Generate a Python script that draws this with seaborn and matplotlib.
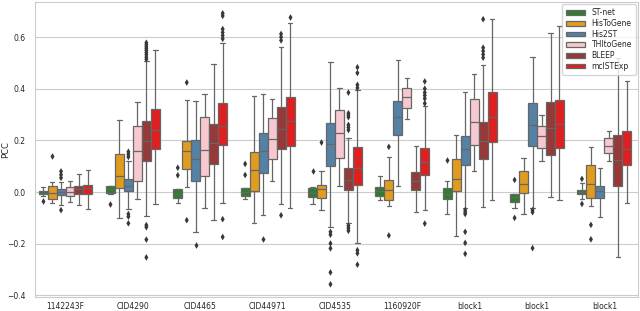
import pandas as pd
import matplotlib
matplotlib.use("Agg")
import matplotlib.pyplot as plt
import seaborn as sns

# Amostras (eixo x) e modelos (hue)
slides = ["1142243F", "CID4290", "CID4465", "CID44971", "CID4535",
          "1160920F", "block1", "block1", "block1"]
models = ["ST-net", "HisToGene", "His2ST", "THItoGene", "BLEEP", "mclSTExp"]
cores = ["forestgreen", "orange", "steelblue", "pink", "brown", "red"]

# Resumo de cada caixa: (min, q1, mediana, q3, max)
stnet_box = [(-0.017, -0.009, -0.003, 0.004, 0.018), (-0.008, -0.005, 0.010, 0.023, 0.025),
             (-0.041, -0.024, -0.006, 0.010, 0.012), (-0.025, -0.014, 0.000, 0.015, 0.017),
             (-0.047, -0.019, -0.004, 0.015, 0.020), (-0.032, -0.015, 0.004, 0.018, 0.063),
             (-0.085, -0.028, -0.009, 0.017, 0.041), (-0.062, -0.038, -0.019, -0.009, -0.006),
             (-0.028, -0.009, 0.000, 0.009, 0.034)]
histogene_box = [(-0.041, -0.027, -0.005, 0.022, 0.038), (-0.099, 0.014, 0.062, 0.146, 0.279),
                 (0.019, 0.090, 0.159, 0.197, 0.358), (-0.118, 0.006, 0.084, 0.156, 0.373),
                 (-0.071, -0.024, 0.011, 0.029, 0.080), (-0.053, -0.032, 0.008, 0.046, 0.137),
                 (-0.170, 0.005, 0.052, 0.128, 0.221), (-0.084, -0.003, 0.032, 0.080, 0.131),
                 (-0.055, -0.022, 0.032, 0.105, 0.173)]
his2st_box = [(-0.051, -0.011, 0.000, 0.010, 0.040), (-0.066, 0.003, 0.024, 0.050, 0.121),
              (-0.154, 0.044, 0.128, 0.200, 0.352), (-0.088, 0.074, 0.159, 0.229, 0.380),
              (-0.137, 0.102, 0.187, 0.269, 0.504), (0.024, 0.222, 0.292, 0.354, 0.510),
              (-0.060, 0.105, 0.165, 0.218, 0.386), (-0.060, 0.177, 0.259, 0.344, 0.523),
              (-0.095, -0.023, 0.004, 0.024, 0.093)]
thitogene_box = [(-0.038, -0.017, 0.001, 0.020, 0.041), (-0.028, 0.041, 0.159, 0.254, 0.349),
                 (-0.060, 0.062, 0.164, 0.292, 0.381), (0.042, 0.128, 0.207, 0.288, 0.362),
                 (0.022, 0.131, 0.227, 0.317, 0.401), (0.283, 0.326, 0.368, 0.404, 0.441),
                 (0.083, 0.182, 0.270, 0.362, 0.458), (0.121, 0.170, 0.216, 0.255, 0.300),
                 (0.121, 0.152, 0.178, 0.211, 0.237)]
bleep_box = [(-0.052, -0.008, 0.010, 0.022, 0.071), (-0.094, 0.121, 0.197, 0.276, 0.508),
             (-0.108, 0.107, 0.189, 0.264, 0.495), (-0.047, 0.166, 0.245, 0.331, 0.561),
             (-0.120, 0.009, 0.047, 0.095, 0.210), (-0.076, 0.009, 0.041, 0.079, 0.180),
             (-0.057, 0.127, 0.198, 0.273, 0.491), (-0.019, 0.143, 0.248, 0.349, 0.615),
             (-0.251, 0.025, 0.124, 0.220, 0.520)]
mclstexp_box = [(-0.065, -0.006, 0.014, 0.029, 0.085), (-0.048, 0.166, 0.239, 0.321, 0.549),
                (-0.041, 0.182, 0.257, 0.343, 0.578), (-0.060, 0.177, 0.276, 0.367, 0.654),
                (-0.197, 0.028, 0.094, 0.174, 0.394), (-0.070, 0.067, 0.116, 0.171, 0.334),
                (-0.032, 0.192, 0.290, 0.386, 0.670), (-0.029, 0.170, 0.264, 0.358, 0.644),
                (-0.043, 0.105, 0.168, 0.237, 0.429)]

# Outliers de cada caixa
stnet_out = [[-0.034], [-0.047], [0.094, 0.065], [0.109, 0.066], [0.083], [],
             [0.124], [0.047, -0.100], [0.051, -0.046]]
histogene_out = [[0.141], [], [0.424, -0.109], [], [0.192], [0.175, -0.168],
                 [], [], [-0.127, -0.183]]
his2st_out = [[0.080, 0.067, 0.055, -0.070],
              [0.156, 0.146, 0.136, -0.085, -0.095, -0.121],
              [-0.206], [-0.180],
              [-0.154, -0.165, -0.199, -0.218, -0.311, -0.357],
              [],
              [-0.070, -0.078, -0.085, -0.154, -0.197, -0.239],
              [-0.070, -0.078, -0.217], []]
thitogene_out = [[], [], [], [], [], [], [], [], []]
bleep_out = [[], [0.578, 0.570, 0.562, 0.555, 0.548, 0.540, 0.532, 0.522, 0.514,
                  -0.128, -0.136, -0.184, -0.253],
             [], [0.612, 0.600, 0.587, -0.090],
             [0.385, 0.305, 0.298, 0.290, 0.260, 0.250, 0.240, -0.130, -0.140, -0.150],
             [], [0.669, 0.559, 0.546, 0.533, 0.520], [], []]
mclstexp_out = [[], [], [0.692, 0.682, 0.631, 0.618, 0.606, 0.593, -0.105, -0.174],
                [0.676], [0.483, 0.461, 0.415, 0.403, -0.225, -0.237, -0.281],
                [0.428, 0.400, 0.385, 0.374, 0.362, 0.343, -0.122], [], [], []]

caixas = [stnet_box, histogene_box, his2st_box, thitogene_box, bleep_box, mclstexp_box]
outliers = [stnet_out, histogene_out, his2st_out, thitogene_out, bleep_out, mclstexp_out]

# Montando as tabelas longas para o seaborn
linhas = []
for m, resumo in zip(models, caixas):
    for i, valores in enumerate(resumo):
        for v in valores:
            linhas.append({"slide": i, "model": m, "PCC": v})
df = pd.DataFrame(linhas)

linhas_out = []
for m, lista in zip(models, outliers):
    for i, valores in enumerate(lista):
        for v in valores:
            linhas_out.append({"slide": i, "model": m, "PCC": v})
df_out = pd.DataFrame(linhas_out)

sns.set_style("whitegrid")
fig, ax = plt.subplots(figsize=(6.4, 3.11), dpi=100)
ordem = list(range(len(slides)))

sns.boxplot(data=df, x="slide", y="PCC", hue="model", order=ordem, hue_order=models,
            palette=cores, whis=(0, 100), showfliers=False, linecolor="0.4",
            linewidth=0.9, ax=ax)
sns.stripplot(data=df_out, x="slide", y="PCC", hue="model", order=ordem, hue_order=models,
              palette={m: "0.22" for m in models}, dodge=True, jitter=False,
              marker="d", size=3.4, legend=False, ax=ax)

ax.set_xticks(ordem)
ax.set_xticklabels(slides, fontsize=5.5)
ax.tick_params(axis="y", labelsize=5.5)
ax.tick_params(axis="x", pad=0)
ax.set_xlabel("")
ax.set_ylabel("PCC", fontsize=6)
ax.yaxis.set_label_coords(-0.042, 0.5)
ax.set_yticks([-0.4, -0.2, 0.0, 0.2, 0.4, 0.6])
ax.set_ylim(-0.405, 0.735)
ax.set_xlim(-0.45, 8.5)
ax.legend(loc="upper right", fontsize=5.5, title=None, labelspacing=0.22,
          handleheight=0.55, handlelength=2.6, borderaxespad=0.3, borderpad=0.5)

plt.subplots_adjust(left=0.055, right=0.997, top=0.993, bottom=0.046)
plt.savefig("out.png", dpi=100)
